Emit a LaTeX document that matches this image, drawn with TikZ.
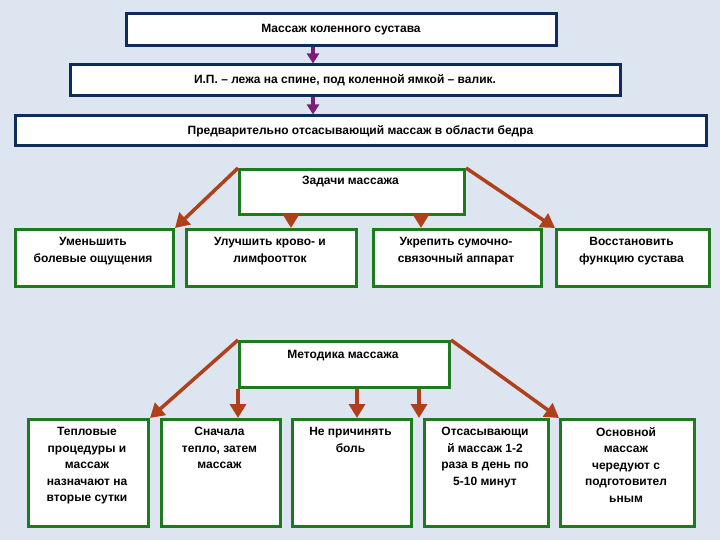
\documentclass[tikz,border=0pt]{standalone}
\usepackage{fontspec}
\setmainfont{Liberation Sans}
\usetikzlibrary{arrows.meta}
\definecolor{bg}{HTML}{DDE6F0}
\definecolor{navy}{HTML}{0F2D5C}
\definecolor{grn}{HTML}{1E7A1E}
\definecolor{brn}{HTML}{B0401A}
\definecolor{purp}{HTML}{7A1E7A}
\begin{document}
\begin{tikzpicture}[x=1pt,y=-1pt,
 ft/.style={font=\bfseries\fontsize{12}{16.5}\selectfont},
 nb/.style={draw=navy,line width=3pt,fill=white,ft},
 gb/.style={draw=grn,line width=3pt,fill=white},
 pa/.style={draw=purp,line width=3.5pt,-{Triangle[length=10pt,width=12pt]}},
 ba/.style={draw=brn,line width=3.5pt,-{Triangle[length=14pt,width=16pt]}}]
\fill[bg] (0,0) rectangle (720,540);
\node[nb,minimum width=430pt,minimum height=32pt] (b1) at (341,30) {Массаж коленного сустава};
\node[nb,minimum width=550pt,minimum height=31pt] (b2) at (345,80.5) {И.П. – лежа на спине, под коленной ямкой – валик.};
\node[nb,minimum width=691pt,minimum height=30pt] (b3) at (360.5,131) {Предварительно отсасывающий массаж в области бедра};
\draw[pa] (b1.south -| 313,0) -- (b2.north -| 313,0);
\draw[pa] (b2.south -| 313,0) -- (b3.north -| 313,0);
\node[gb,minimum width=225pt,minimum height=45pt,anchor=north west] (task) at (238,168) {};
\node[ft] (tt) at (350.5,182) {Задачи массажа};
\foreach \n/\x/\w/\t in {t1/14/158/{Уменьшить\\болевые ощущения},t2/185/170/{Улучшить крово- и\\лимфоотток},t3/372/168/{Укрепить сумочно-\\связочный аппарат},t4/555/153/{Восстановить\\функцию сустава}}{
 \node[gb,minimum width=\w pt,minimum height=57pt,anchor=north west] (\n) at (\x,228) {};
 \node[ft,align=center,anchor=north] at (\x+\w/2,234) {\t};
}
\coordinate (a2) at (291,228);\coordinate (a3) at (421,228);
\draw[ba] (task.north west) -- (t1.north east);
\draw[ba] (task.south -| a2) -- (a2);
\draw[ba] (task.south -| a3) -- (a3);
\draw[ba] (task.north east) -- (t4.north west);
\node[gb,minimum width=210pt,minimum height=46pt,anchor=north west] (meth) at (238,340) {};
\node[ft] at (343,356) {Методика массажа};
\foreach \n/\x/\w/\t in {m1/27/120/{Тепловые\\процедуры и\\массаж\\назначают на\\вторые сутки},m2/160/119/{Сначала\\тепло, затем\\массаж},m3/291/119/{Не причинять\\боль},m4/423/124/{Отсасывающи\\й массаж 1-2\\раза в день по\\5-10 минут},m5/559/134/{Основной\\массаж\\чередуют с\\подготовител\\ьным}}{
 \node[gb,minimum width=\w pt,minimum height=107pt,anchor=north west] (\n) at (\x,418) {};
 \node[ft,align=center,anchor=north] at (\x+\w/2,424) {\t};
}
\coordinate (c2) at (238,418);\coordinate (c3) at (357,418);\coordinate (c4) at (419,418);
\draw[ba] (meth.north west) -- (m1.north east);
\draw[ba] (meth.south -| c2) -- (c2);
\draw[ba] (meth.south -| c3) -- (c3);
\draw[ba] (meth.south -| c4) -- (c4);
\draw[ba] (meth.north east) -- (m5.north west);
\end{tikzpicture}
\end{document}
